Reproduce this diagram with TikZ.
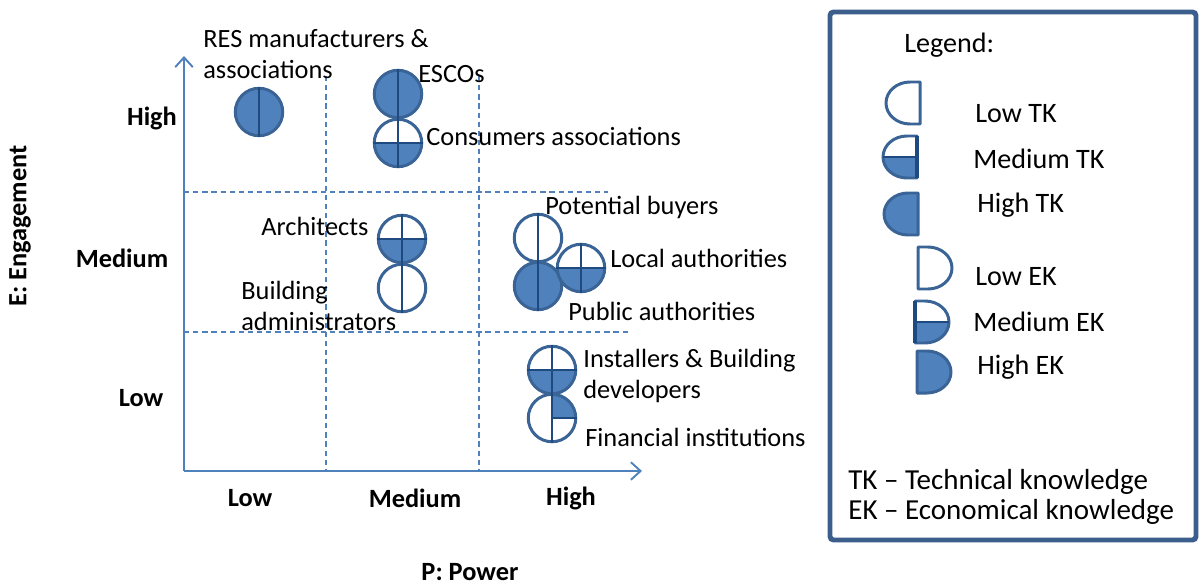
\documentclass[tikz,border=0pt]{standalone}
\usepackage{fontspec}
\setmainfont{Carlito}
\usetikzlibrary{arrows.meta}
\definecolor{kfill}{HTML}{4F81BD}
\definecolor{kedge}{HTML}{3A6396}
\definecolor{kline}{HTML}{1F4A80}
\definecolor{axiscol}{HTML}{4F81BD}
\definecolor{lboxcol}{HTML}{3B5E8C}
\begin{document}
\begin{tikzpicture}[x=0.02cm,y=-0.02cm,
  kc/.style={circle, draw=kedge, line width=1.7pt, minimum size=0.95cm, inner sep=0pt},
  kfull/.style={kc, fill=kfill},
  khalf/.style={kc, path picture={\fill[kfill] (path picture bounding box.west) rectangle (path picture bounding box.south east);}},
  kquart/.style={kc, path picture={\fill[kfill] (path picture bounding box.center) rectangle (path picture bounding box.north east);}},
  kl/.style={draw=kline, line width=1.5pt},
  lbl/.style={font=\fontsize{15}{18}\selectfont, inner sep=0pt, anchor=west, align=left},
  leglbl/.style={font=\fontsize{16}{18}\selectfont, inner sep=0pt, anchor=west, align=left},
  legnote/.style={font=\fontsize{16.5}{18}\selectfont, inner sep=0pt, anchor=west, align=left},
  axlbl/.style={font=\fontsize{15}{18}\selectfont\bfseries, inner sep=0pt},
  axisline/.style={draw=axiscol, line width=1.1pt, -{Straight Barb[length=5.5pt,width=10pt]}},
  grid/.style={draw=axiscol, line width=1.1pt, dash pattern=on 3pt off 2.2pt},
  lshape/.style={draw=kedge, line width=1.7pt, line join=round},
  ledge/.style={draw=kline, line width=1.9pt}
]
\useasboundingbox (0,0) rectangle (1200,585);

% axes
\coordinate (o) at (184,471);
\coordinate (ytop) at (184,56);
\coordinate (xend) at (642,471);
\draw[grid] (326,76) -- (326,471);
\draw[grid] (479,76) -- (479,471);
\draw[grid] (184,192) -- (608,192);
\draw[grid] (184,332) -- (630,332);
\draw[axisline] (o) -- (ytop);
\draw[axisline] (o) -- (xend);

% axis labels
\node[axlbl] (eh) at (152,118) {High};
\node[axlbl] (em) at (122,258) {Medium};
\node[axlbl] (el) at (141,398) {Low};
\node[axlbl] (pl) at (250,498) {Low};
\node[axlbl] (pm) at (415,498) {Medium};
\node[axlbl] (ph) at (571,498) {High};
\node[axlbl, rotate=90] (etitle) at (20,226) {E: Engagement};
\node[axlbl] (ptitle) at (470,572) {P: Power};

% stakeholder symbols
\node[kfull] (res) at (259,112) {};
\draw[kl] (res.north) -- (res.south);
\node[kfull] (esco) at (398,94) {};
\draw[kl] (esco.north) -- (esco.south);
\node[khalf] (cons) at (398,143) {};
\draw[kl] (cons.north) -- (cons.south);
\draw[kl] (cons.west) -- (cons.east);
\node[khalf] (arch) at (402,239) {};
\draw[kl] (arch.north) -- (arch.south);
\draw[kl] (arch.west) -- (arch.east);
\node[kc] (badm) at (402,288) {};
\draw[kl] (badm.north) -- (badm.south);
\node[kc] (pbuy) at (538,238) {};
\draw[kl] (pbuy.north) -- (pbuy.south);
\node[kfull] (pauth) at (538,286) {};
\draw[kl] (pauth.north) -- (pauth.south);
\node[khalf] (lauth) at (581,268) {};
\draw[kl] (lauth.north) -- (lauth.south);
\draw[kl] (lauth.west) -- (lauth.east);
\node[khalf] (inst) at (552,370) {};
\draw[kl] (inst.north) -- (inst.south);
\draw[kl] (inst.west) -- (inst.east);
\node[kquart] (fin) at (552,418) {};
\draw[kl] (fin.north) -- (fin.south);
\draw[kl] (fin.center) -- (fin.east);

% stakeholder labels
\node[lbl] (tres) at (203,54) {RES manufacturers \&\\associations};
\node[lbl] (tesco) at (418,74) {ESCOs};
\node[lbl] (tcons) at (426,136) {Consumers associations};
\node[lbl] (tarch) at (261,226) {Architects};
\node[lbl] (tbadm) at (241,306) {Building\\administrators};
\node[lbl] (tpbuy) at (545,207) {Potential buyers};
\node[lbl] (tlauth) at (610,258) {Local authorities};
\node[lbl] (tpauth) at (568,311) {Public authorities};
\node[lbl] (tinst) at (583,376) {Installers \& Building\\developers};
\node[lbl] (tfin) at (585,437) {Financial institutions};

% legend box
\draw[draw=lboxcol, line width=2.8pt, rounded corners=2pt] (830,12) rectangle (1196,540);
\node[leglbl] (leg) at (904,45) {Legend:};

% Low TK
\draw[lshape] (920,82) -- (910,82) arc[start angle=270,end angle=90,x radius=24,y radius=21] -- (920,124) -- cycle;
% Medium TK
\fill[kfill] (917,157) -- (883,157) arc[start angle=180,end angle=90,x radius=24,y radius=21] -- (917,178) -- cycle;
\draw[lshape] (917,136) -- (907,136) arc[start angle=270,end angle=90,x radius=24,y radius=21] -- (917,178) -- cycle;
\draw[kl] (883,157) -- (917,157);
\draw[ledge] (917,136) -- (917,178);
% High TK
\draw[lshape, fill=kfill] (918,193) -- (908,193) arc[start angle=270,end angle=90,x radius=24,y radius=21] -- (918,235) -- cycle;
% Low EK
\draw[lshape] (918,247) -- (928,247) arc[start angle=270,end angle=450,x radius=24,y radius=21] -- (918,289) -- cycle;
% Medium EK
\fill[kfill] (915,322) -- (949,322) arc[start angle=0,end angle=90,x radius=24,y radius=21] -- (915,343) -- cycle;
\draw[lshape] (915,301) -- (925,301) arc[start angle=270,end angle=450,x radius=24,y radius=21] -- (915,343) -- cycle;
\draw[kl] (915,322) -- (949,322);
\draw[ledge] (915,301) -- (915,343);
% High EK
\draw[lshape, fill=kfill] (917,351) -- (927,351) arc[start angle=270,end angle=450,x radius=24,y radius=21] -- (917,393) -- cycle;

\node[leglbl] (llt) at (975,114) {Low TK};
\node[leglbl] (lmt) at (973,159) {Medium TK};
\node[leglbl] (lht) at (977,205) {High TK};
\node[leglbl] (lle) at (975,277) {Low EK};
\node[leglbl] (lme) at (973,322) {Medium EK};
\node[leglbl] (lhe) at (977,367) {High EK};
\node[legnote] (ltk) at (848,482) {TK -- Technical knowledge};
\node[legnote] (lek) at (848,512) {EK -- Economical knowledge};
\end{tikzpicture}
\end{document}
